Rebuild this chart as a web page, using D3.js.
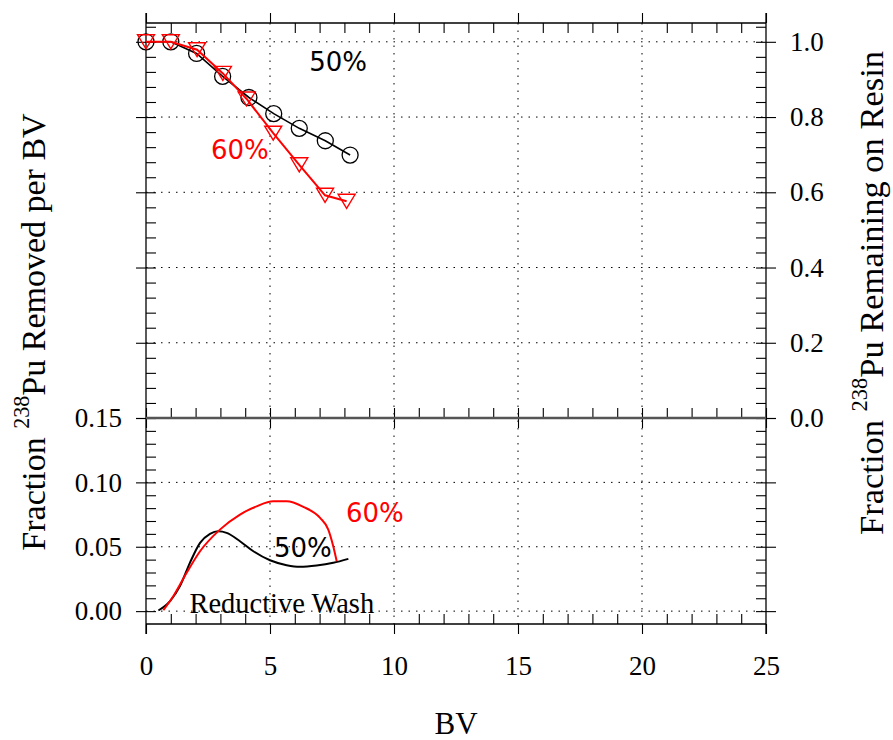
<!DOCTYPE html>
<html>
<head>
<meta charset="utf-8">
<script src="https://cdn.jsdelivr.net/npm/d3@7"></script>
<style>
  html, body { margin: 0; padding: 0; background: #fff; }
  svg { display: block; }
  .serif { font-family: "Liberation Serif", "Times New Roman", serif; }
</style>
</head>
<body>
<svg id="chart" width="893" height="740"></svg>
<script>
// ---------- data ----------
const bvTicks = [0, 5, 10, 15, 20, 25];
const bvTickLabels = ["0", "5", "10", "15", "20", "25"];
const remainingTicks = [0.0, 0.2, 0.4, 0.6, 0.8, 1.0];
const remainingTickLabels = ["0.0", "0.2", "0.4", "0.6", "0.8", "1.0"];
const removedTicks = [0.00, 0.05, 0.10, 0.15];
const removedTickLabels = ["0.00", "0.05", "0.10", "0.15"];

// Top panel: fraction remaining on resin
const bv50 = [0, 1, 2.04, 3.09, 4.15, 5.15, 6.18, 7.23, 8.23];
const remaining50 = [1.0, 1.0, 0.969, 0.908, 0.852, 0.809, 0.770, 0.737, 0.699];
const bv60 = [0, 1, 2.06, 3.1, 4.06, 5.13, 6.18, 7.22, 8.09];
const remaining60 = [1.0, 1.0, 0.979, 0.916, 0.848, 0.757, 0.673, 0.592, 0.576];

// Bottom panel: fraction removed per BV (reductive wash)
const bvWash50 = [0.50, 0.97, 1.37, 1.77, 2.18, 2.58, 2.92, 3.25, 3.79, 4.33, 5.0, 5.67, 6.21, 6.88, 7.55, 8.16];
const removed50 = [0.0005, 0.0078, 0.0194, 0.0375, 0.053, 0.060, 0.062, 0.0608, 0.0543, 0.0465, 0.0395, 0.0357, 0.0344, 0.0354, 0.0375, 0.0406];
const bvWash60 = [0.70, 1.10, 1.64, 2.18, 2.98, 3.79, 4.46, 5.13, 5.67, 6.34, 7.02, 7.35, 7.55, 7.69];
const removed60 = [0.0008, 0.0116, 0.0298, 0.0465, 0.0633, 0.075, 0.0814, 0.0853, 0.0853, 0.081, 0.0724, 0.0633, 0.0504, 0.0388];

// ---------- layout ----------
const L = 146, R = 766, T = 23, M = 418, B = 624;
const TICK = 10;
const RED = "#ff0000";

const svg = d3.select("#chart");

const x = d3.scaleLinear().domain([0, 25]).range([L, R]);
const yTop = d3.scaleLinear().domain([0, 1.05]).range([M, T]);
const yBot = d3.scaleLinear().domain([-0.01, 0.15]).range([B, M]);

const xMinor = d3.range(0, 26, 1).filter(v => v % 5 !== 0);
const yTopMinor = d3.range(0, 53).map(i => +(i * 0.04).toFixed(2)).filter(v => v <= 1.05 && Math.abs(v / 0.2 - Math.round(v / 0.2)) > 1e-6);
const yBotMinor = d3.range(0, 16).map(i => +(i * 0.01).toFixed(2)).filter(v => Math.abs(v / 0.05 - Math.round(v / 0.05)) > 1e-6);

// ---------- gridlines ----------
const grid = svg.append("g").attr("stroke", "#000").attr("stroke-width", 1)
  .attr("stroke-dasharray", "1.5,6").attr("fill", "none");
[5, 10, 15, 20].forEach(v => {
  grid.append("line").attr("x1", x(v)).attr("x2", x(v)).attr("y1", T).attr("y2", B);
});
remainingTicks.forEach(v => {
  grid.append("line").attr("x1", L).attr("x2", R).attr("y1", yTop(v)).attr("y2", yTop(v));
});
[0.00, 0.05, 0.10].forEach(v => {
  grid.append("line").attr("x1", L).attr("x2", R).attr("y1", yBot(v)).attr("y2", yBot(v));
});

// ---------- axes helper ----------
function styleAxis(g, fontSize) {
  g.select(".domain").remove();
  g.selectAll(".tick line").attr("stroke", "#000").attr("stroke-width", 1.1);
  g.selectAll(".tick text").attr("fill", "#000")
    .attr("class", "serif").style("font-size", fontSize + "px");
  return g;
}
function noLabel(a) { return a.tickFormat(""); }

// Bottom x axis (with labels)
svg.append("g").attr("transform", `translate(0,${B})`)
  .call(d3.axisBottom(x).tickValues(bvTicks).tickSize(TICK).tickPadding(22)
    .tickFormat((d, i) => bvTickLabels[i]))
  .call(g => styleAxis(g, 27));
svg.append("g").attr("transform", `translate(0,${B})`)
  .call(noLabel(d3.axisTop(x).tickValues(xMinor).tickSize(TICK)))
  .call(g => styleAxis(g, 10));

// Top x axis
svg.append("g").attr("transform", `translate(0,${T})`)
  .call(noLabel(d3.axisTop(x).tickValues(bvTicks).tickSize(TICK)))
  .call(g => styleAxis(g, 10));
svg.append("g").attr("transform", `translate(0,${T})`)
  .call(noLabel(d3.axisBottom(x).tickValues(xMinor).tickSize(TICK)))
  .call(g => styleAxis(g, 10));

// Divider axis
svg.append("g").attr("transform", `translate(0,${M})`)
  .call(noLabel(d3.axisTop(x).tickValues(bvTicks).tickSize(TICK)))
  .call(g => styleAxis(g, 10));
svg.append("g").attr("transform", `translate(0,${M})`)
  .call(noLabel(d3.axisBottom(x).tickValues(bvTicks).tickSize(TICK)))
  .call(g => styleAxis(g, 10));
svg.append("g").attr("transform", `translate(0,${M})`)
  .call(noLabel(d3.axisTop(x).tickValues(xMinor).tickSize(TICK)))
  .call(g => styleAxis(g, 10));

// Left axis, top panel (no labels)
svg.append("g").attr("transform", `translate(${L},0)`)
  .call(noLabel(d3.axisLeft(yTop).tickValues(remainingTicks).tickSize(TICK)))
  .call(g => styleAxis(g, 10));
svg.append("g").attr("transform", `translate(${L},0)`)
  .call(noLabel(d3.axisRight(yTop).tickValues(remainingTicks.concat(yTopMinor)).tickSize(TICK)))
  .call(g => styleAxis(g, 10));

// Left axis, bottom panel (labels)
svg.append("g").attr("transform", `translate(${L},0)`)
  .call(d3.axisLeft(yBot).tickValues(removedTicks).tickSize(TICK).tickPadding(14)
    .tickFormat((d, i) => removedTickLabels[i]))
  .call(g => styleAxis(g, 27));
svg.append("g").attr("transform", `translate(${L},0)`)
  .call(noLabel(d3.axisRight(yBot).tickValues(removedTicks.concat(yBotMinor)).tickSize(TICK)))
  .call(g => styleAxis(g, 10));

// Right axis, top panel (labels)
svg.append("g").attr("transform", `translate(${R},0)`)
  .call(d3.axisRight(yTop).tickValues(remainingTicks).tickSize(TICK).tickPadding(14)
    .tickFormat((d, i) => remainingTickLabels[i]))
  .call(g => styleAxis(g, 27));
svg.append("g").attr("transform", `translate(${R},0)`)
  .call(noLabel(d3.axisLeft(yTop).tickValues(remainingTicks.concat(yTopMinor)).tickSize(TICK)))
  .call(g => styleAxis(g, 10));

// Right axis, bottom panel (no labels)
svg.append("g").attr("transform", `translate(${R},0)`)
  .call(noLabel(d3.axisRight(yBot).tickValues(removedTicks).tickSize(TICK)))
  .call(g => styleAxis(g, 10));
svg.append("g").attr("transform", `translate(${R},0)`)
  .call(noLabel(d3.axisLeft(yBot).tickValues(removedTicks.concat(yBotMinor)).tickSize(TICK)))
  .call(g => styleAxis(g, 10));

// Frame lines
const frame = svg.append("g").attr("stroke", "#000").attr("stroke-width", 1.3).attr("fill", "none");
frame.append("line").attr("x1", L).attr("x2", R).attr("y1", T).attr("y2", T);
frame.append("line").attr("x1", L).attr("x2", R).attr("y1", B).attr("y2", B);
frame.append("line").attr("x1", L).attr("x2", L).attr("y1", T - TICK).attr("y2", B + TICK);
frame.append("line").attr("x1", R).attr("x2", R).attr("y1", T - TICK).attr("y2", B + TICK);
svg.append("line").attr("x1", L).attr("x2", R).attr("y1", M).attr("y2", M)
  .attr("stroke", "#555").attr("stroke-width", 2.6);

// ---------- top panel series ----------
const top50 = bv50.map((v, i) => [v, remaining50[i]]);
const top60 = bv60.map((v, i) => [v, remaining60[i]]);
const lineTop = d3.line().x(d => x(d[0])).y(d => yTop(d[1]));

svg.append("path").datum(top50).attr("d", lineTop)
  .attr("fill", "none").attr("stroke", "#000").attr("stroke-width", 1.6);
svg.append("g").selectAll("circle").data(top50).join("circle")
  .attr("cx", d => x(d[0])).attr("cy", d => yTop(d[1])).attr("r", 8)
  .attr("fill", "none").attr("stroke", "#000").attr("stroke-width", 1.3);

svg.append("path").datum(top60).attr("d", lineTop)
  .attr("fill", "none").attr("stroke", RED).attr("stroke-width", 2);
const triW = 17, triH = 14;
svg.append("g").selectAll("path").data(top60).join("path")
  .attr("d", d => {
    const cx = x(d[0]), cy = yTop(d[1]);
    return `M${cx - triW / 2},${cy - triH / 2}L${cx + triW / 2},${cy - triH / 2}L${cx},${cy + triH / 2}Z`;
  })
  .attr("fill", "none").attr("stroke", RED).attr("stroke-width", 1.4);

// ---------- bottom panel series ----------
const bot50 = bvWash50.map((v, i) => [v, removed50[i]]);
const bot60 = bvWash60.map((v, i) => [v, removed60[i]]);
const lineBot = d3.line().x(d => x(d[0])).y(d => yBot(d[1])).curve(d3.curveMonotoneX);
svg.append("path").datum(bot50).attr("d", lineBot)
  .attr("fill", "none").attr("stroke", "#000").attr("stroke-width", 2);
svg.append("path").datum(bot60).attr("d", lineBot)
  .attr("fill", "none").attr("stroke", RED).attr("stroke-width", 2);

// ---------- annotations ----------
const sans = '"DejaVu Sans", sans-serif';
svg.append("text").attr("x", x(6.58)).attr("y", yTop(0.922))
  .attr("font-family", sans).attr("font-size", 26).attr("fill", "#000").text("50%");
svg.append("text").attr("x", x(2.62)).attr("y", yTop(0.688))
  .attr("font-family", sans).attr("font-size", 26).attr("fill", RED).text("60%");
svg.append("text").attr("x", x(8.06)).attr("y", yBot(0.0694))
  .attr("font-family", sans).attr("font-size", 26).attr("fill", RED).text("60%");
svg.append("text").attr("x", x(5.16)).attr("y", yBot(0.0423))
  .attr("font-family", sans).attr("font-size", 26).attr("fill", "#000").text("50%");
svg.append("text").attr("x", x(1.75)).attr("y", yBot(-0.0017))
  .attr("class", "serif").attr("font-size", 28.5).attr("fill", "#000").text("Reductive Wash");

// ---------- axis titles ----------
function vTitle(cx, cy, rest, size) {
  const t = svg.append("text").attr("class", "serif")
    .attr("transform", `translate(${cx},${cy}) rotate(-90)`)
    .attr("text-anchor", "middle").attr("font-size", size).attr("fill", "#000");
  t.append("tspan").text("Fraction ");
  t.append("tspan").attr("font-size", size * 0.65).attr("dy", -size * 0.47).text("238");
  t.append("tspan").attr("dy", size * 0.47).text(rest);
}
vTitle(45, 332, "Pu Removed per BV", 34);
vTitle(883, 293, "Pu Remaining on Resin", 34.5);

svg.append("text").attr("class", "serif").attr("x", (L + R) / 2).attr("y", 734)
  .attr("text-anchor", "middle").attr("font-size", 31).attr("fill", "#000").text("BV");
</script>
</body>
</html>
